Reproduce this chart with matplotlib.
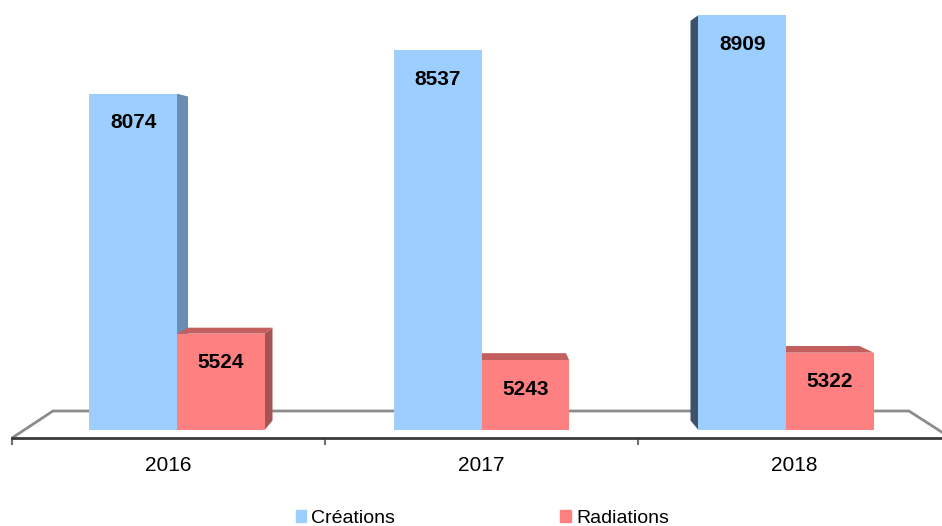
import matplotlib.pyplot as plt
from matplotlib.patches import Polygon, Patch

# chart data
years = ["2016", "2017", "2018"]
creations = [8074, 8537, 8909]
radiations = [5524, 5243, 5322]
series_names = ["Créations", "Radiations"]

# axis range
y_base = 4500
y_min = 4415
y_max = 9070

# colours: front, top, side (left dark, right lighter)
BLUE = {"front": "#9ccfff", "top": "#b8dcff", "left": "#3d5269", "right": "#6a8db3"}
RED = {"front": "#ff8080", "top": "#c45f5f", "left": "#8f4a4a", "right": "#a65353"}

# fake perspective: vanishing point (data coords) and depth scale
VP_X, VP_Y = 1.0, 7263
DEPTH = 0.9635
FLOOR_VP_X, FLOOR_DEPTH = 0.98, 0.9116
BAR_W = 0.28

plt.rcParams['font.family'] = ['Liberation Sans', 'DejaVu Sans']


def back(x, y, s=DEPTH, vx=VP_X, vy=VP_Y):
    """Project a front-face point onto the back face."""
    return vx + (x - vx) * s, vy + (y - vy) * s


def draw_bar(ax, x0, x1, top, colors):
    y0 = y_base
    # side faces
    if x1 < VP_X:
        bx, by_t = back(x1, top)
        _, by_b = back(x1, y0)
        ax.add_patch(Polygon([(x1, y0), (x1, top), (bx, by_t), (bx, by_b)],
                             closed=True, fc=colors["right"], ec="none", zorder=3))
    if x0 > VP_X:
        bx, by_t = back(x0, top)
        _, by_b = back(x0, y0)
        ax.add_patch(Polygon([(x0, y0), (x0, top), (bx, by_t), (bx, by_b)],
                             closed=True, fc=colors["left"], ec="none", zorder=3))
    # top face only when below the eye line
    if top < VP_Y:
        bx0, by = back(x0, top)
        bx1, _ = back(x1, top)
        ax.add_patch(Polygon([(x0, top), (x1, top), (bx1, by), (bx0, by)],
                             closed=True, fc=colors["top"], ec="none", zorder=3))
    # front face
    ax.bar((x0 + x1) / 2, top - y0, width=x1 - x0, bottom=y0,
           color=colors["front"], zorder=4)
    ax.annotate(f"{top}", ((x0 + x1) / 2, top), xytext=(0, -21),
                textcoords="offset points", ha="center", va="center",
                fontsize=15, fontweight="bold", color="black", zorder=6)


def draw_floor(ax):
    fx0, fx1 = -0.5, 2.5
    back_y = 4702
    bx0, _ = back(fx0, y_min, FLOOR_DEPTH, FLOOR_VP_X, 0)
    bx1, _ = back(fx1, y_min, FLOOR_DEPTH, FLOOR_VP_X, 0)
    ax.add_patch(Polygon([(fx0, y_min), (bx0, back_y), (bx1, back_y), (fx1, y_min)],
                         closed=False, fc="white", ec="#8c8c8c", lw=2, zorder=1,
                         clip_on=False))


def main():
    fig = plt.figure(figsize=(9.42, 5.26), dpi=100)
    ax = fig.add_axes([12 / 942, 88 / 526, 939 / 942, 438 / 526])
    ax.set_xlim(-0.5, 2.5)
    ax.set_ylim(y_min, y_max)

    draw_floor(ax)

    for i in range(len(years)):
        center = 1 + (i - 1) * 0.973
        bars = [(center - BAR_W, center, creations[i], BLUE),
                (center, center + BAR_W, radiations[i], RED)]
        # paint the bar farthest from the vanishing point first
        bars.sort(key=lambda b: -abs((b[0] + b[1]) / 2 - VP_X))
        for x0, x1, top, colors in bars:
            draw_bar(ax, x0, x1, top, colors)

    # axis styling
    for side in ["top", "right", "left"]:
        ax.spines[side].set_visible(False)
    ax.spines["bottom"].set_color("#3a3a3a")
    ax.spines["bottom"].set_linewidth(2)
    ax.spines["bottom"].set_zorder(2)
    ax.set_yticks([])
    ax.set_xticks(range(len(years)))
    ax.set_xticklabels(years, fontsize=15)
    ax.set_xticks([-0.5, 0.5, 1.5, 2.5], minor=True)
    ax.tick_params(axis="x", which="major", length=0, pad=13)
    ax.tick_params(axis="x", which="minor", length=5, width=1.5, color="#6e6e6e",
                   direction="out")

    handles = [Patch(color=BLUE["front"]), Patch(color=RED["front"])]
    fig.legend(handles, series_names, loc="center", bbox_to_anchor=(0.512, 0.015),
               ncol=2, frameon=False, fontsize=14, handlelength=0.55,
               handleheight=0.55, handletextpad=0.25, columnspacing=8.5)

    fig.savefig("out.png", dpi=100)


if __name__ == "__main__":
    main()
